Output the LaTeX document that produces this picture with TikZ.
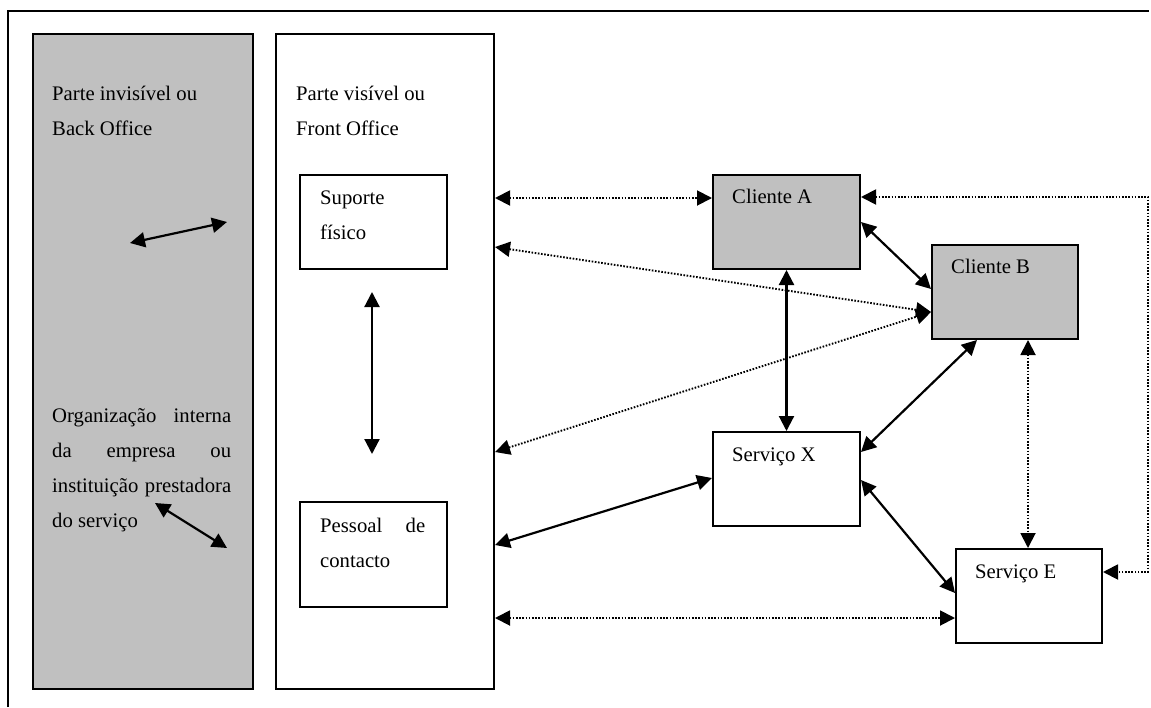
\documentclass[tikz,border=0pt]{standalone}
\usepackage{fontspec}
\setmainfont{Liberation Serif}
\usetikzlibrary{arrows.meta}
\definecolor{panelgray}{HTML}{C0C0C0}
\begin{document}
\begin{tikzpicture}[x=1pt,y=-1pt,
  box/.style={draw, line width=2pt, inner sep=0pt, anchor=north west},
  shaded/.style={box, fill=panelgray},
  txt/.style={anchor=base west, inner sep=0pt, font=\fontsize{20.7}{35}\selectfont},
  tip/.tip={Triangle[length=15pt,width=15pt]},
  link/.style={line width=2.2pt, tip-tip},
  dotlink/.style={line width=1.9pt, dash pattern=on 1.6pt off 1.6pt, tip-tip},
]
\useasboundingbox (0,0) rectangle (1151,707);

% open outer frame
\draw[line width=2.2pt] (8,707) -- (8,11) -- (1149,11);

% back office and front office panels
\node[shaded, minimum width=220pt, minimum height=655pt] (back) at (32,33) {};
\node[box, minimum width=218pt, minimum height=655pt] (front) at (275,33) {};

% boxes inside the front office
\node[box, minimum width=147pt, minimum height=94pt] (sup) at (299,174) {};
\node[box, minimum width=147pt, minimum height=105pt] (pes) at (299,501) {};

% clients and services
\node[shaded, minimum width=147pt, minimum height=94pt] (cA) at (712,174) {};
\node[shaded, minimum width=146pt, minimum height=94pt] (cB) at (931,244) {};
\node[box, minimum width=147pt, minimum height=94pt] (sX) at (712,431) {};
\node[box, minimum width=146pt, minimum height=94pt] (sE) at (955,548) {};

% texts
\node[txt] (backtxt) at (52,100) {\parbox[t]{190pt}{Parte invisível ou\\Back Office}};
\node[txt] (fronttxt) at (296,100) {\parbox[t]{190pt}{Parte visível ou\\Front Office}};
\node[txt] (orgtxt) at (52,422) {\parbox[t]{179pt}{\sloppy Organização interna\linebreak da empresa ou\linebreak instituição prestadora\linebreak do serviço}};
\node[txt] (suptxt) at (320,204) {\parbox[t]{120pt}{Suporte\\físico}};
\node[txt] (pestxt) at (320,532) {\parbox[t]{105pt}{\sloppy Pessoal de\linebreak contacto}};
\node[txt] (cAtxt) at (732,203) {Cliente A};
\node[txt] (cBtxt) at (951,273) {Cliente B};
\node[txt] (sXtxt) at (732,461) {Serviço X};
\node[txt] (sEtxt) at (975,578) {Serviço E};

% free arrow ends
\coordinate (b1) at (130,243);
\coordinate (b2) at (227,222);
\coordinate (b3) at (155,503);
\coordinate (b4) at (227,548);
\coordinate (f1) at (372,292);
\coordinate (f2) at (372,454);
\coordinate (rt) at (1148,197);
\coordinate (rb) at (1148,572);

% arrows inside the panels
\draw[link] (b1) -- (b2);
\draw[link] (b3) -- (b4);
\draw[link] (f1) -- (f2);

% connectors
\draw[dotlink] (front.east |- 0,198) -- (cA.west |- 0,198);
\draw[dotlink] (front.east |- 0,247) -- (cB.west |- 0,312);
\draw[dotlink] (front.east |- 0,452) -- (cB.west |- 0,312);
\draw[link] (cA.south) -- (sX.north -| cA.south);
\draw[link] (cA.east |- 0,222) -- (cB.west |- 0,289);
\draw[dotlink] (cA.east |- 0,197) -- (rt) -- (rb) -- (sE.east |- 0,572);
\draw[link] (cB.south -| 977,0) -- (sX.east |- 0,452);
\draw[dotlink] (cB.south -| 1028,0) -- (sE.north -| 1028,0);
\draw[link] (sX.east |- 0,480) -- (sE.west |- 0,593);
\draw[link] (front.east |- 0,545) -- (sX.west |- 0,478);
\draw[dotlink] (front.east |- 0,618) -- (sE.west |- 0,618);
\end{tikzpicture}
\end{document}
